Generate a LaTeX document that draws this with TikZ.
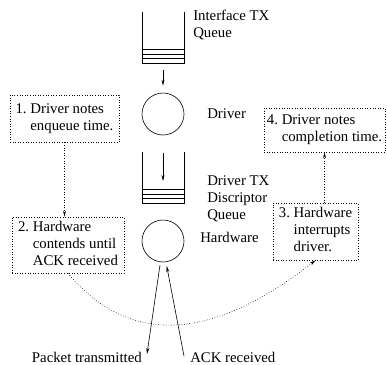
\documentclass[tikz,border=0pt]{standalone}
\usepackage{fontspec}
\setmainfont{Liberation Serif}
\usetikzlibrary{arrows.meta}

\begin{document}
\begin{tikzpicture}[x=1pt, y=-1pt, line width=0.6pt,
    >={Stealth[length=6pt, width=3pt]},
    font=\fontsize{14.8}{17}\selectfont,
    note/.style={draw, dotted, inner sep=0pt},
    lbl/.style={anchor=west, align=left, inner sep=0pt},
    stage/.style={draw, circle, minimum size=42pt, inner sep=0pt}]
    \useasboundingbox (0,0) rectangle (387,364);

    % Interface TX queue
    \draw (142,12) -- (142,63) -- (184,63) -- (184,12);
    \foreach \y in {49,54,58.5} \draw (142,\y) -- (184,\y);
    \coordinate (ifq) at (163,63);
    \node[lbl] (ifqlbl) at (193,25) {Interface TX\\Queue};

    % Driver
    \node[stage] (drv) at (163,114) {};
    \node[lbl] (drvlbl) at (207,114) {Driver};
    \draw[->, shorten <=7pt, shorten >=7pt] (ifq) -- (drv.north);

    % Driver TX descriptor queue
    \draw (142,152) -- (142,203) -- (184,203) -- (184,152);
    \foreach \y in {189,194,198.5} \draw (142,\y) -- (184,\y);
    \coordinate (dqtop) at (163,153);
    \coordinate (dqin) at (163,181);
    \draw[->] (dqtop) -- (dqin);
    \node[lbl] (dqlbl) at (207,199) {Driver TX\\Discriptor\\Queue};

    % Hardware and the medium
    \node[stage] (hw) at (163,241) {};
    \node[lbl] (hwlbl) at (200,237) {Hardware};
    \coordinate (tx) at (147,354);
    \coordinate (rx) at (184,356);
    \draw[->, shorten <=3pt] (hw.-97) -- (tx);
    \draw[->, shorten >=4pt] (rx) -- (hw.-82);
    \node[anchor=east, inner sep=0pt] (txlbl) at (142,357) {Packet transmitted};
    \node[lbl] (rxlbl) at (190,357) {ACK received};

    % Timing notes
    \node[note, minimum width=109pt, minimum height=47pt] (n1) at (64.5,118.5)
        {\begin{tabular}{@{}l@{\ }l@{}}1. & Driver notes\\ & enqueue time.\end{tabular}};
    \node[note, minimum width=112pt, minimum height=56pt] (n2) at (68,245)
        {\begin{tabular}{@{}l@{\ }l@{}}2. & Hardware\\ & contends until\\ & ACK received\end{tabular}};
    \node[note, minimum width=85pt, minimum height=57pt] (n3) at (315.5,231.5)
        {\begin{tabular}{@{}l@{\ }l@{}}3. & Hardware\\ & interrupts\\ & driver.\end{tabular}};
    \node[note, minimum width=121pt, minimum height=44pt] (n4) at (324.5,130)
        {\begin{tabular}{@{}l@{\ }l@{}}4. & Driver notes\\ & completion time.\end{tabular}};

    \draw[dotted, ->] (n1.south) -- (n1.south |- n2.north);
    \draw[dotted, ->] (n3.north -| n4.south) -- (n4.south);
    \draw[dotted, ->] (n2.south) .. controls (129,346) and (211,342) .. (n3.south);
\end{tikzpicture}
\end{document}
